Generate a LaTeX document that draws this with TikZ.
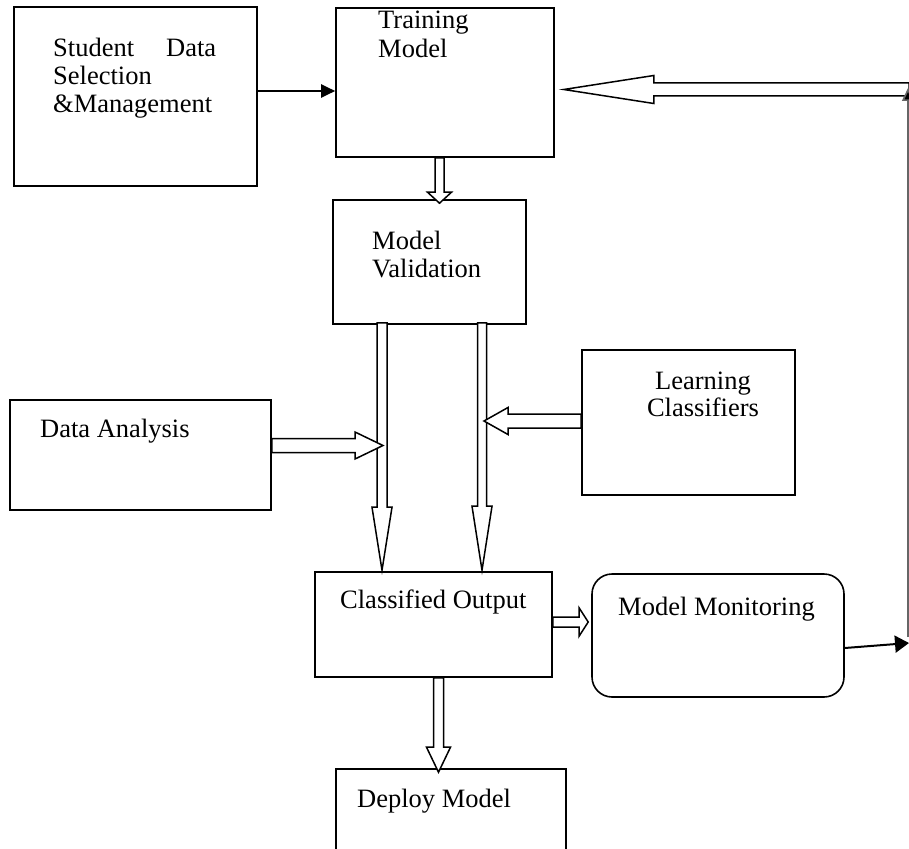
\documentclass[tikz,border=0pt]{standalone}
\usepackage{fontspec}
\setmainfont{Liberation Serif}
\usetikzlibrary{calc,fit,arrows.meta}

% block arrow with an outlined, white-filled body
% #1 start, #2 tip, #3 half shaft width, #4 half head width, #5 head length
\newcommand\hollowarrow[5]{%
  \coordinate (ha-b) at ($(#2)!#5!(#1)$);
  \draw[hollow]
    ($(#1)!#3!90:(#2)$) -- ($(ha-b)!#3!90:(#2)$) -- ($(ha-b)!#4!90:(#2)$)
    -- (#2)
    -- ($(ha-b)!#4!-90:(#2)$) -- ($(ha-b)!#3!-90:(#2)$) -- ($(#1)!#3!-90:(#2)$)
    -- cycle;}

% rectangle node spanning the given corners
\newcommand\boxnode[6][]{%
  \coordinate (#2-tl) at (#3,#4);
  \coordinate (#2-br) at (#5,#6);
  \node[stepbox,fit=(#2-tl)(#2-br),#1] (#2) {};}

\begin{document}
\begin{tikzpicture}[x=1pt,y=-1pt,
  stepbox/.style={draw,line width=1.6pt,inner sep=0pt},
  hollow/.style={draw,fill=white,line width=1.5pt,line join=miter},
  label/.style={inner sep=0pt,font=\fontsize{26.5pt}{30pt}\selectfont},
  feed/.style={line width=2pt,-{Triangle[length=14pt,width=13pt]}},
  back/.style={line width=1.6pt,draw=black!60,-{Triangle[length=13pt,width=12pt,fill=black]}}]
\useasboundingbox (0,0) rectangle (909,848);

% boxes
\boxnode{sds}{14}{7}{257}{186}
\boxnode{train}{336}{8}{554}{157}
\boxnode{valid}{333}{200}{526}{324}
\boxnode{data}{10}{400}{271}{510}
\boxnode{learn}{582}{350}{795}{495}
\boxnode{cls}{315}{572}{552}{677}
\boxnode[rounded corners=20pt]{mon}{592}{574}{844}{697}
\boxnode{deploy}{336}{769}{566}{870}

% texts
\node[label,anchor=base west] (t1) at (53,57) {\hbox to 163pt{Student\hfill Data}};
\node[label,anchor=base west] (t2) at (53,85) {Selection};
\node[label,anchor=base west] (t3) at (53,113) {\&Management};
\node[label,anchor=base west] (t4) at (378,29) {Training};
\node[label,anchor=base west] (t5) at (378,58) {Model};
\node[label,anchor=base west] (t6) at (372,249) {Model};
\node[label,anchor=base west] (t7) at (372,277) {Validation};
\node[label,anchor=base west] (t8) at (40,437) {Data Analysis};
\node[label,anchor=base] (t9) at (703,389) {Learning};
\node[label,anchor=base] (t10) at (703,416) {Classifiers};
\node[label,anchor=base west] (t11) at (340,608) {Classified Output};
\node[label,anchor=base west] (t12) at (618,615) {Model Monitoring};
\node[label,anchor=base west] (t13) at (357,807) {Deploy Model};

% plain connectors
\draw[feed] (sds.east |- 0,91) -- (train.west |- 0,91);
\coordinate (edge-top) at (908,88);
\coordinate (edge-bot) at (908,637);
\coordinate (edge-in) at (909,643);
\draw[feed,-{Triangle[length=14pt,width=17pt]}] (mon.east |- 0,648) -- (edge-in);

% block arrows
\coordinate (fb-s) at (909,89.5);
\coordinate (fb-t) at ($(train.east |- 0,89.5)+(9,0)$);
\hollowarrow{fb-s}{fb-t}{6.5pt}{14pt}{90pt}

\coordinate (tv-s) at (train.south -| 439.5,0);
\coordinate (tv-t) at ($(valid.north -| 439.5,0)+(0,4)$);
\hollowarrow{tv-s}{tv-t}{4.5pt}{12pt}{11pt}

\coordinate (va-s) at ($(valid.south -| 382,0)+(0,-2)$);
\coordinate (va-t) at ($(cls.north -| 382,0)+(0,-1)$);
\hollowarrow{va-s}{va-t}{5pt}{10pt}{63pt}

\coordinate (vb-s) at ($(valid.south -| 482,0)+(0,-2)$);
\coordinate (vb-t) at ($(cls.north -| 482,0)+(0,-1)$);
\hollowarrow{vb-s}{vb-t}{4.5pt}{10pt}{64pt}

\coordinate (da-s) at (data.east |- 0,445.5);
\coordinate (da-t) at (383,445.5);
\hollowarrow{da-s}{da-t}{7pt}{13.5pt}{28pt}

\coordinate (lc-s) at (learn.west |- 0,421);
\coordinate (lc-t) at (484,421);
\hollowarrow{lc-s}{lc-t}{7pt}{13.5pt}{24pt}

\coordinate (cm-s) at (cls.east |- 0,622);
\coordinate (cm-t) at ($(mon.west |- 0,622)+(-3,0)$);
\hollowarrow{cm-s}{cm-t}{5pt}{14pt}{9pt}

\coordinate (cd-s) at (cls.south -| 438.5,0);
\coordinate (cd-t) at ($(deploy.north -| 438.5,0)+(0,4)$);
\hollowarrow{cd-s}{cd-t}{5pt}{12pt}{25pt}

% feedback line up the right edge, drawn over the block arrow's tail
\draw[back] (edge-bot) -- (edge-top);
\end{tikzpicture}
\end{document}
